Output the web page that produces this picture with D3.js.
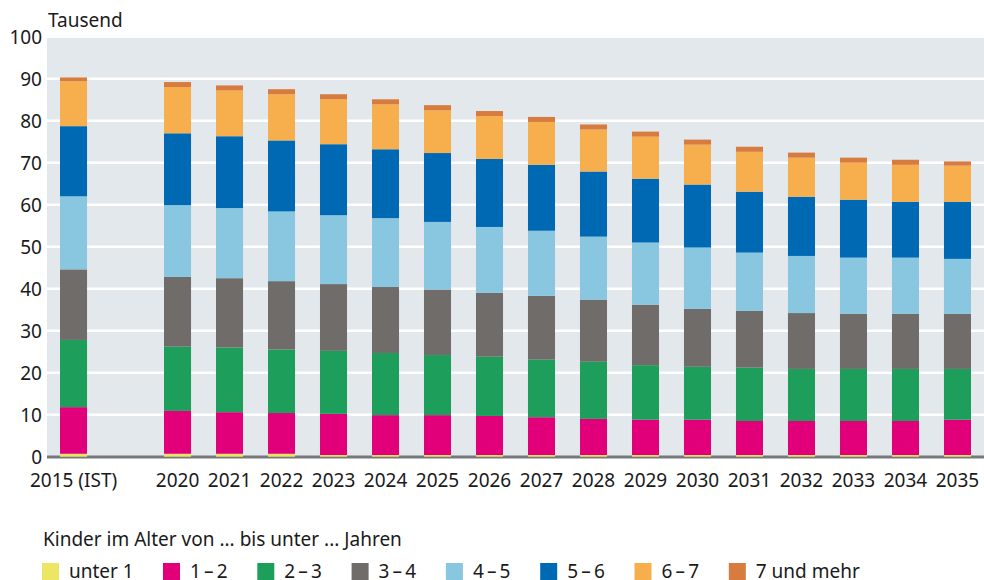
<!DOCTYPE html>
<html>
<head>
<meta charset="utf-8">
<script src="https://cdn.jsdelivr.net/npm/d3@7"></script>
<style>
  body { margin: 0; background: #fff; }
  text { font-family: 'Noto Sans', sans-serif; fill: #1a1a1a; }
</style>
</head>
<body>
<div id="main"></div>
<script>
/*********************************************************
 * Data (Tausend Kinder)
 *********************************************************/

const years = ['2015 (IST)', 'gap', '2020', '2021', '2022', '2023', '2024', '2025', '2026',
  '2027', '2028', '2029', '2030', '2031', '2032', '2033', '2034', '2035'];

const ageGroups = ['unter 1', '1\u2009\u2013\u20092', '2\u2009\u2013\u20093', '3\u2009\u2013\u20094',
  '4\u2009\u2013\u20095', '5\u2009\u2013\u20096', '6\u2009\u2013\u20097', '7 und mehr'];

const colors = ['#ede564', '#e2007a', '#1d9e5a', '#706c69', '#89c6df', '#0069b4', '#f7af4e', '#d77b3f'];

// one value per year, 'gap' is empty
const unter1 = [0.7, 0, 0.7, 0.7, 0.7, 0.4, 0.4, 0.4, 0.4, 0.4, 0.4, 0.4, 0.4, 0.4, 0.4, 0.4, 0.4, 0.4];
const age1to2 = [11.1, 0, 10.2, 9.9, 9.7, 9.8, 9.5, 9.5, 9.3, 9.0, 8.6, 8.4, 8.4, 8.1, 8.1, 8.1, 8.1, 8.4];
const age2to3 = [16.0, 0, 15.3, 15.4, 15.1, 15.0, 14.8, 14.3, 14.1, 13.7, 13.6, 13.0, 12.6, 12.7, 12.4, 12.4, 12.4, 12.1];
const age3to4 = [16.8, 0, 16.6, 16.5, 16.3, 15.9, 15.7, 15.6, 15.2, 15.2, 14.8, 14.4, 13.8, 13.5, 13.3, 13.1, 13.1, 13.1];
const age4to5 = [17.4, 0, 17.1, 16.7, 16.6, 16.4, 16.4, 16.1, 15.7, 15.5, 15.0, 14.8, 14.6, 13.9, 13.6, 13.4, 13.4, 13.1];
const age5to6 = [16.7, 0, 17.1, 17.1, 16.9, 16.9, 16.4, 16.4, 16.2, 15.7, 15.5, 15.2, 15.0, 14.5, 14.1, 13.8, 13.3, 13.6];
const age6to7 = [10.7, 0, 11.0, 10.9, 11.0, 10.7, 10.7, 10.2, 10.2, 10.2, 10.0, 10.0, 9.5, 9.5, 9.3, 8.8, 8.8, 8.6];
const age7plus = [0.9, 0, 1.2, 1.2, 1.2, 1.2, 1.2, 1.2, 1.2, 1.2, 1.2, 1.2, 1.2, 1.2, 1.2, 1.2, 1.2, 1.0];

const yTicks = [0, 10, 20, 30, 40, 50, 60, 70, 80, 90, 100];

/*********************************************************
 * Layout
 *********************************************************/

const svgWidth = 984;
const svgHeight = 580;
const plot = { l: 47, r: 984, t: 36.7, b: 456.7 };
const fontSize = '19px';

const svg = d3
  .select('#main')
  .append('svg')
  .attr('width', svgWidth)
  .attr('height', svgHeight);

const x = d3
  .scaleBand()
  .domain(years)
  .range([plot.l, plot.r])
  .paddingInner(0.48)
  .paddingOuter(0.25);

const y = d3.scaleLinear().domain([0, 100]).range([plot.b, plot.t]);

// build table for the stack
const series = [unter1, age1to2, age2to3, age3to4, age4to5, age5to6, age6to7, age7plus];
const table = years.map((yr, i) => {
  const row = { year: yr };
  ageGroups.forEach((g, k) => { row[g] = series[k][i]; });
  return row;
});
const stacked = d3.stack().keys(ageGroups)(table.filter(d => d.year !== 'gap'));

/*********************************************************
 * Background, grid, axes
 *********************************************************/

svg.append('rect')
  .attr('x', plot.l)
  .attr('y', y(100))
  .attr('width', plot.r - plot.l)
  .attr('height', y(0) - y(100))
  .attr('fill', '#e3e8ec');

svg.append('g')
  .selectAll('line')
  .data(yTicks.filter(d => d > 0))
  .enter()
  .append('line')
  .attr('x1', plot.l)
  .attr('x2', plot.r)
  .attr('y1', d => y(d))
  .attr('y2', d => y(d))
  .attr('stroke', '#fff')
  .attr('stroke-width', 2.6);

// baseline
svg.append('line')
  .attr('x1', plot.l)
  .attr('x2', plot.r)
  .attr('y1', y(0) + 0.3)
  .attr('y2', y(0) + 0.3)
  .attr('stroke', '#77787a')
  .attr('stroke-width', 3);

const yAxis = svg.append('g')
  .attr('transform', `translate(${plot.l},0)`)
  .call(d3.axisLeft(y).tickValues(yTicks).tickSize(0).tickPadding(5));
yAxis.select('.domain').remove();
yAxis.selectAll('text')
  .style('font-size', fontSize)
  .attr('dy', '0.34em');

const xAxis = svg.append('g')
  .attr('transform', `translate(0,${y(0)})`)
  .call(d3.axisBottom(x).tickSize(0).tickPadding(17).tickFormat(d => (d === 'gap' ? '' : d)));
xAxis.select('.domain').remove();
xAxis.selectAll('text').style('font-size', fontSize);

svg.append('text')
  .attr('x', 48)
  .attr('y', 27)
  .style('font-size', fontSize)
  .text('Tausend');

/*********************************************************
 * Stacked bars
 *********************************************************/

svg.append('g')
  .selectAll('.layer')
  .data(stacked)
  .enter()
  .append('g')
  .attr('class', 'layer')
  .attr('fill', (d, i) => colors[i])
  .selectAll('rect')
  .data(d => d)
  .enter()
  .append('rect')
  .attr('x', d => x(d.data.year))
  .attr('width', x.bandwidth())
  .attr('y', d => y(d[1]))
  .attr('height', d => y(d[0]) - y(d[1]));

/*********************************************************
 * Legend
 *********************************************************/

svg.append('text')
  .attr('x', 43)
  .attr('y', 546)
  .style('font-size', fontSize)
  .text('Kinder im Alter von ... bis unter ... Jahren');

const legend = svg.append('g')
  .selectAll('.item')
  .data(ageGroups)
  .enter()
  .append('g')
  .attr('class', 'item')
  .attr('transform', (d, i) => `translate(${i === 0 ? 42 : 163 + (i - 1) * 94.3},563)`);

legend.append('rect')
  .attr('width', 17)
  .attr('height', 17)
  .attr('fill', (d, i) => colors[i]);

legend.append('text')
  .attr('x', 27)
  .attr('y', 15)
  .style('font-size', fontSize)
  .text(d => d);
</script>
</body>
</html>
